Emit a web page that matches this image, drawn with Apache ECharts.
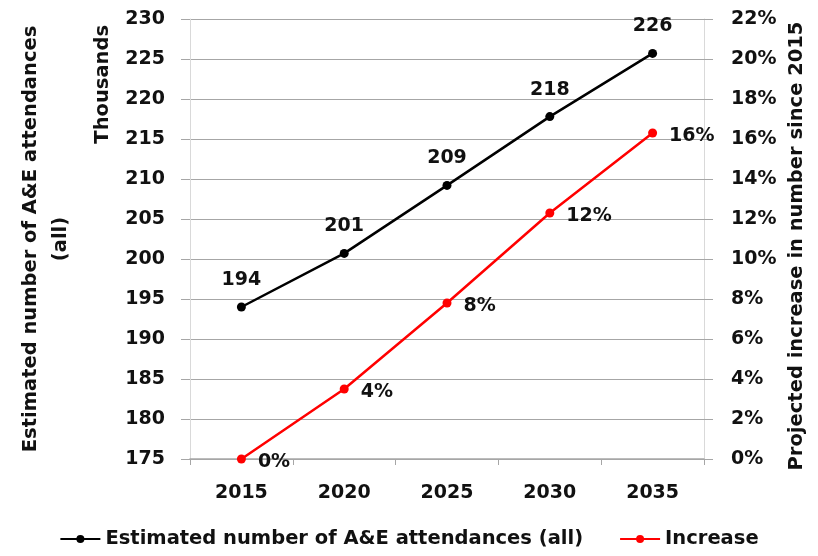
<!DOCTYPE html>
<html><head><meta charset="utf-8">
<script src="https://cdn.jsdelivr.net/npm/echarts@6/dist/echarts.min.js"></script>
<style>html,body{margin:0;padding:0;background:#fff}#c{width:818px;height:556px}</style>
</head><body><div id="c"></div>
<script>
const categories = ['2015','2020','2025','2030','2035'];
const attendances = [194.0, 200.7, 209.2, 217.8, 225.7];
const increasePct = [0, 3.5, 7.8, 12.3, 16.3];
const seriesNames = ['Estimated number of A&E attendances (all)', 'Increase'];

const FONT = '"DejaVu Sans"';
const TXT = '#111';
const TICK = 19;
const NAME = 19.5;
const chart = echarts.init(document.getElementById('c'));
chart.setOption({
  animation: false,
  textStyle: {fontFamily: FONT},
  grid: {left: 190, right: 114, top: 19, bottom: 97, outerBoundsMode: 'none', containLabel: false},
  legend: {
    bottom: 2, left: 'center', itemGap: 36, itemWidth: 40, itemHeight: 10,
    textStyle: {fontFamily: FONT, fontSize: NAME, fontWeight: 'bold', color: TXT},
    data: seriesNames
  },
  graphic: [{
    type: 'text', left: 93, top: 25, rotation: Math.PI/2,
    style: {text: 'Thousands', font: 'bold ' + NAME + 'px ' + FONT, fill: TXT}
  }],
  xAxis: {
    type: 'category', data: categories, boundaryGap: true,
    axisLine: {lineStyle: {color: '#a6a6a6', width: 1.5}},
    axisTick: {show: true, length: 6, lineStyle: {color: '#a6a6a6'}},
    axisLabel: {fontSize: TICK, fontWeight: 'bold', color: TXT, margin: 25, fontFamily: FONT}
  },
  yAxis: [{
    type: 'value', min: 175, max: 230, interval: 5, position: 'left',
    name: 'Estimated number of A&E attendances\n(all)', nameLocation: 'middle', nameRotate: 90, nameGap: 114,
    nameTextStyle: {fontSize: NAME, fontWeight: 'bold', color: TXT, lineHeight: 30, fontFamily: FONT},
    axisLine: {show: true, lineStyle: {color: '#d9d9d9'}},
    axisTick: {show: true, length: 9, lineStyle: {color: '#a6a6a6'}},
    axisLabel: {fontSize: TICK, fontWeight: 'bold', color: TXT, margin: 25, fontFamily: FONT},
    splitLine: {lineStyle: {color: '#a6a6a6', width: 1.2}}
  }, {
    type: 'value', min: 0, max: 22, interval: 2, position: 'right',
    name: 'Projected increase in number since 2015', nameLocation: 'middle', nameRotate: 90, nameGap: 81,
    nameTextStyle: {fontSize: NAME, fontWeight: 'bold', color: TXT, fontFamily: FONT, padding: [0, 14, 0, 0]},
    axisLine: {show: true, lineStyle: {color: '#d9d9d9'}},
    axisTick: {show: true, length: 9, lineStyle: {color: '#a6a6a6'}},
    axisLabel: {fontSize: TICK, fontWeight: 'bold', color: TXT, margin: 27, formatter: '{value}%', fontFamily: FONT},
    splitLine: {show: false}
  }],
  series: [{
    name: seriesNames[0], type: 'line', yAxisIndex: 0, data: attendances,
    symbol: 'circle', symbolSize: 9, color: '#000',
    lineStyle: {width: 2.5, color: '#000'}, itemStyle: {color: '#000'},
    label: {show: true, position: 'top', distance: 13, fontSize: TICK, fontWeight: 'bold', color: TXT, fontFamily: FONT,
      formatter: p => Math.round(p.value)}
  }, {
    name: seriesNames[1], type: 'line', yAxisIndex: 1, data: increasePct,
    symbol: 'circle', symbolSize: 9, color: '#ff0000',
    lineStyle: {width: 2.5, color: '#ff0000'}, itemStyle: {color: '#ff0000'},
    label: {show: true, position: 'right', distance: 12, offset: [0, 3], fontSize: TICK, fontWeight: 'bold', color: TXT, fontFamily: FONT,
      formatter: p => Math.round(p.value) + '%'}
  }]
});
</script></body></html>
